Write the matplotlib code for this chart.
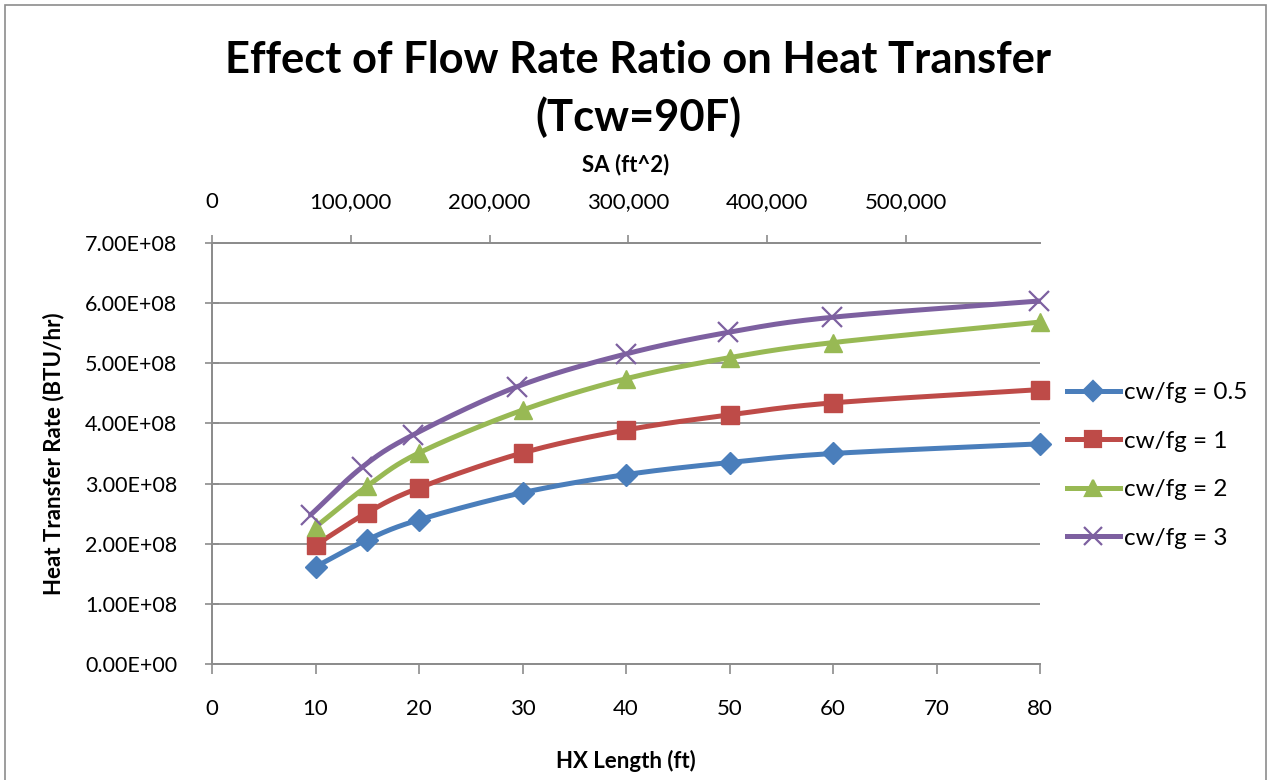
import numpy as np
import matplotlib
matplotlib.use("Agg")
import matplotlib.pyplot as plt
from matplotlib.lines import Line2D
from matplotlib.patches import Rectangle

plt.rcParams["font.family"] = ["Lato", "DejaVu Sans"]

# HX length (ft) and heat transfer rate (BTU/hr) for each flow rate ratio
hx_length = [10, 15, 20, 30, 40, 50, 60, 80]
q_ratio_05 = [1.62e8, 2.07e8, 2.40e8, 2.85e8, 3.15e8, 3.35e8, 3.50e8, 3.66e8]
q_ratio_1 = [1.98e8, 2.52e8, 2.93e8, 3.51e8, 3.89e8, 4.14e8, 4.34e8, 4.56e8]
q_ratio_2 = [2.28e8, 2.96e8, 3.51e8, 4.22e8, 4.74e8, 5.09e8, 5.34e8, 5.68e8]
# cw/fg = 3 is plotted against surface area (ft^2) on the top axis
surface_area = [71000, 108000, 145000, 220000, 298000, 372000, 447000, 596000]
q_ratio_3 = [2.48e8, 3.27e8, 3.81e8, 4.61e8, 5.15e8, 5.51e8, 5.76e8, 6.03e8]

series_labels = ["cw/fg = 0.5", "cw/fg = 1", "cw/fg = 2", "cw/fg = 3"]
y_ticks = [0, 1e8, 2e8, 3e8, 4e8, 5e8, 6e8, 7e8]
x_ticks = [0, 10, 20, 30, 40, 50, 60, 70, 80]
sa_ticks = [0, 100000, 200000, 300000, 400000, 500000]

colors = ["#4A7EBB", "#BE4B48", "#98B954", "#7D60A0"]
GRID = "#8C8C8C"

X_MAX = 80
SA_MAX = 596600
Y_MAX = 7e8


def smooth(xs, ys, xspan, yspan, n=30):
    """Catmull-Rom style smoothing (like a spreadsheet's smoothed line)."""
    px = np.asarray(xs, float) / xspan
    py = np.asarray(ys, float) / yspan
    P = np.column_stack([px, py])
    P = np.vstack([2 * P[0] - P[1], P, 2 * P[-1] - P[-2]])
    out = []
    for i in range(1, len(P) - 2):
        p0, p1, p2, p3 = P[i - 1], P[i], P[i + 1], P[i + 2]
        t = np.linspace(0, 1, n)[:, None]
        seg = 0.5 * ((2 * p1) + (-p0 + p2) * t
                     + (2 * p0 - 5 * p1 + 4 * p2 - p3) * t ** 2
                     + (-p0 + 3 * p1 - 3 * p2 + p3) * t ** 3)
        out.append(seg if i == 1 else seg[1:])
    out = np.vstack(out)
    return out[:, 0] * xspan, out[:, 1] * yspan


fig = plt.figure(figsize=(12.71, 7.80), dpi=100)
fig.patch.set_facecolor("white")
fig.patches.append(Rectangle((0.004, -0.01), 0.992, 1.003, transform=fig.transFigure,
                             fill=False, edgecolor="#8C8C8C", linewidth=1.2))

ax = fig.add_axes([0.1668, 0.1481, 0.8183 - 0.1668, 0.6891 - 0.1481])
ax.set_xlim(0, X_MAX)
ax.set_ylim(0, Y_MAX)

axt = ax.twiny()
axt.set_xlim(0, SA_MAX)

for a in (ax, axt):
    a.spines["right"].set_visible(False)
    for s in ("left", "bottom", "top"):
        a.spines[s].set_color(GRID)
        a.spines[s].set_linewidth(1.3)

ax.set_yticks(y_ticks)
ax.set_yticklabels(["%.2E" % v for v in y_ticks])
ax.set_xticks(x_ticks)
ax.set_xticklabels([str(v) for v in x_ticks])
axt.set_xticks(sa_ticks)
axt.set_xticklabels(["{:,}".format(v) for v in sa_ticks])

ax.yaxis.grid(True, color=GRID, linewidth=1.3)
ax.set_axisbelow(True)

ax.tick_params(axis="y", direction="inout", length=10, width=1.2, color=GRID,
               labelsize=15.5, pad=20, labelcolor="black")
ax.tick_params(axis="x", direction="out", length=7, width=1.2, color=GRID,
               labelsize=16, pad=18, labelcolor="black")
axt.tick_params(axis="x", direction="out", length=6, width=1.2, color=GRID,
                labelsize=16, pad=16, labelcolor="black")

markers = ["D", "s", "^", "x"]
msizes = [11.5, 12.5, 13.5, 14]
data = [(hx_length, q_ratio_05, ax, X_MAX),
        (hx_length, q_ratio_1, ax, X_MAX),
        (hx_length, q_ratio_2, ax, X_MAX),
        (surface_area, q_ratio_3, axt, SA_MAX)]

for (xs, ys, a, xspan), c, m, ms in zip(data, colors, markers, msizes):
    sx, sy = smooth(xs, ys, xspan, Y_MAX)
    a.plot(sx, sy, color=c, linewidth=3.6, solid_capstyle="round", zorder=3)
    if m == "x":
        a.plot(xs, ys, linestyle="none", marker=m, markersize=ms,
               markeredgecolor=c, markeredgewidth=1.6, zorder=4, clip_on=False)
    else:
        a.plot(xs, ys, linestyle="none", marker=m, markersize=ms,
               markerfacecolor=c, markeredgecolor=c, zorder=4, clip_on=False)

ax.set_xlabel("HX Length (ft)", fontsize=16, fontweight="bold", labelpad=22)
ax.set_ylabel("Heat Transfer Rate (BTU/hr)", fontsize=16, fontweight="bold", labelpad=15)
axt.set_xlabel("SA (ft^2)", fontsize=16, fontweight="bold", labelpad=15)

fig.text(0.502, 0.923, "Effect of Flow Rate Ratio on Heat Transfer", ha="center",
         va="center", fontsize=31.3, fontweight="bold")
fig.text(0.502, 0.850, "(Tcw=90F)", ha="center", va="center",
         fontsize=31.3, fontweight="bold")

handles = [Line2D([0], [0], color=c, linewidth=3.6, marker=m,
                  markersize=ms * 0.9, markerfacecolor=c, markeredgecolor=c,
                  markeredgewidth=1.6)
           for c, m, ms in zip(colors, markers, msizes)]
fig.legend(handles, series_labels, loc="upper left",
           bbox_to_anchor=(0.822, 0.538), frameon=False, fontsize=17.5,
           handlelength=2.2, handletextpad=0.15, labelspacing=1.13)

fig.savefig("out.png", dpi=100, facecolor="white")
